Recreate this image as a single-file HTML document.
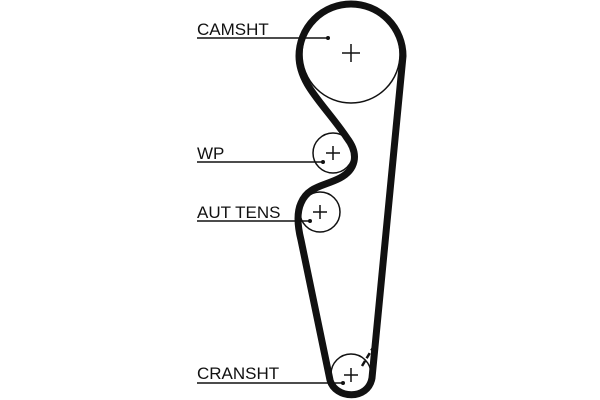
<!DOCTYPE html>
<html><head><style>
body{margin:0;background:#fff}
svg{display:block}
text{font-family:"Liberation Sans",sans-serif;font-size:17px;fill:#111}
</style></head><body>
<svg width="600" height="400" viewBox="0 0 600 400">
<g fill="none" stroke="#111">
<circle cx="351" cy="54" r="49" stroke-width="1.5"/>
<circle cx="333" cy="153" r="20" stroke-width="1.5"/>
<circle cx="320" cy="212" r="20" stroke-width="1.5"/>
<circle cx="351" cy="374" r="20" stroke-width="1.5"/>
<path d="M403,56 A52,52 0 0 0 299,56 C299,85 325,105 347,138 C360,155 355,170 340,178 C325,186 308,186 301,203 C296,214 298,228 301,240 L330,380 C335,399 368,401 372,378 L403,56 Z" stroke-width="7" stroke-linejoin="round"/>
<g stroke-width="1.5">
<path d="M342,53h18M351,44v18"/>
<path d="M326,153h14M333,146v14"/>
<path d="M313,212h14M320,205v14"/>
<path d="M344,375h14M351,368v14"/>
</g>
<path d="M362,366 L374,346" stroke-width="2.5" stroke-dasharray="6,3"/>
<g stroke-width="1.5">
<path d="M197,38H328"/>
<path d="M197,162H323"/>
<path d="M197,221H310"/>
<path d="M197,383H343"/>
</g>
</g>
<g fill="#111">
<circle cx="328" cy="38" r="2"/>
<circle cx="323" cy="162" r="2"/>
<circle cx="310" cy="221" r="2"/>
<circle cx="343" cy="383" r="2"/>
</g>
<text x="197" y="35">CAMSHT</text>
<text x="197" y="159">WP</text>
<text x="197" y="218">AUT TENS</text>
<text x="197" y="379">CRANSHT</text>
</svg>
</body></html>
